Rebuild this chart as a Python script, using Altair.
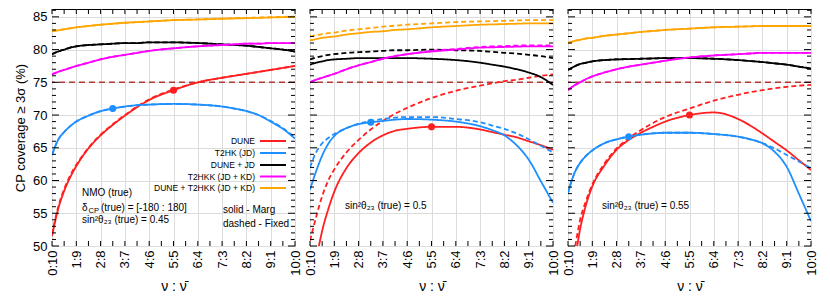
import altair as alt
import pandas as pd

# ---------------- data ----------------
X = [0, 0.25, 0.5, 0.75, 1, 1.5, 2, 2.5, 3, 3.5, 4, 5, 6, 7, 7.5, 8, 8.5, 9, 9.5, 10]
X_TICK_LABELS = ["0:10", "1:9", "2:8", "3:7", "4:6", "5:5", "6:4", "7:3", "8:2", "9:1", "10:0"]

SERIES = ["DUNE", "T2HK (JD)", "DUNE + JD", "T2HKK (JD + KD)", "DUNE + T2HKK (JD + KD)"]
COLORS = ["#ff1f1f", "#1e8fff", "#000000", "#ff00ff", "#ffa500"]

# sin^2 theta23 = 0.45
P45_DUNE_SOLID = [51.5, 55.6, 58.4, 60.5, 62.2, 64.9, 66.9, 68.5, 69.9, 71.2, 72.3, 73.8, 75.0, 75.7, 76.0, 76.3, 76.6, 76.9, 77.2, 77.5]
P45_DUNE_DASHED = [51.8, 55.9, 58.7, 60.8, 62.4, 65.0, 67.0, 68.6, 70.0, 71.3, 72.4, 73.9, 75.0, 75.7, 76.0, 76.3, 76.6, 76.9, 77.2, 77.5]
P45_T2HK_SOLID = [63.9, 66.2, 67.4, 68.3, 69.0, 69.9, 70.6, 71.0, 71.3, 71.5, 71.6, 71.7, 71.6, 71.3, 71.0, 70.6, 70.0, 69.0, 67.9, 66.4]
P45_T2HK_DASHED = [63.9, 66.2, 67.4, 68.3, 69.0, 69.9, 70.6, 71.0, 71.3, 71.5, 71.6, 71.7, 71.6, 71.3, 71.0, 70.6, 70.0, 69.1, 68.0, 66.6]
P45_DJD_SOLID = [79.3, 79.7, 80.0, 80.3, 80.5, 80.7, 80.8, 80.9, 81.0, 81.0, 81.1, 81.1, 81.0, 80.8, 80.7, 80.6, 80.4, 80.2, 80.0, 79.7]
P45_DJD_DASHED = [79.3, 79.7, 80.0, 80.3, 80.5, 80.7, 80.8, 80.9, 81.0, 81.0, 81.1, 81.1, 81.0, 80.8, 80.7, 80.6, 80.4, 80.2, 80.0, 79.7]
P45_T2HKK_SOLID = [76.2, 76.6, 76.9, 77.2, 77.5, 78.0, 78.5, 78.9, 79.2, 79.5, 79.8, 80.2, 80.5, 80.7, 80.8, 80.9, 80.9, 81.0, 81.0, 81.0]
P45_T2HKK_DASHED = [76.2, 76.6, 76.9, 77.2, 77.5, 78.0, 78.5, 78.9, 79.2, 79.5, 79.8, 80.2, 80.5, 80.7, 80.8, 80.9, 80.9, 81.0, 81.0, 81.0]
P45_ALL_SOLID = [82.8, 82.95, 83.1, 83.25, 83.4, 83.6, 83.8, 83.95, 84.1, 84.2, 84.3, 84.5, 84.6, 84.7, 84.75, 84.8, 84.85, 84.9, 84.95, 85.0]
P45_ALL_DASHED = [82.8, 82.95, 83.1, 83.25, 83.4, 83.6, 83.8, 83.95, 84.1, 84.2, 84.3, 84.5, 84.6, 84.75, 84.8, 84.85, 84.9, 84.95, 85.0, 85.05]

# sin^2 theta23 = 0.5
P50_DUNE_SOLID = [40.0, 47.5, 52.3, 55.6, 58.3, 61.9, 64.2, 65.8, 66.9, 67.6, 67.9, 68.2, 68.2, 67.8, 67.4, 67.0, 66.6, 66.0, 65.4, 64.7]
P50_DUNE_DASHED = [50.8, 54.4, 57.6, 60.0, 61.7, 64.3, 66.2, 67.8, 69.1, 70.2, 71.1, 72.6, 73.7, 74.5, 74.85, 75.2, 75.4, 75.7, 76.0, 76.2]
P50_T2HK_SOLID = [58.6, 61.4, 63.8, 65.6, 66.8, 68.0, 68.6, 68.9, 69.1, 69.3, 69.4, 69.3, 69.0, 68.3, 67.7, 66.9, 65.4, 63.2, 59.9, 56.6]
P50_T2HK_DASHED = [62.0, 64.3, 65.7, 66.5, 67.1, 68.0, 68.7, 69.1, 69.4, 69.6, 69.7, 69.7, 69.4, 68.9, 68.4, 67.9, 67.2, 66.3, 65.3, 64.3]
P50_DJD_SOLID = [77.7, 78.0, 78.2, 78.4, 78.5, 78.6, 78.7, 78.7, 78.7, 78.7, 78.7, 78.6, 78.4, 78.0, 77.7, 77.4, 77.0, 76.5, 75.8, 74.6]
P50_DJD_DASHED = [78.5, 78.8, 79.0, 79.2, 79.3, 79.5, 79.6, 79.7, 79.8, 79.9, 79.9, 80.0, 79.9, 79.8, 79.65, 79.5, 79.4, 79.2, 79.0, 78.7]
P50_T2HKK_SOLID = [75.0, 75.4, 75.7, 76.0, 76.3, 77.0, 77.6, 78.1, 78.6, 79.0, 79.3, 79.7, 80.0, 80.3, 80.35, 80.4, 80.45, 80.5, 80.5, 80.5]
P50_T2HKK_DASHED = [75.0, 75.4, 75.7, 76.0, 76.3, 77.0, 77.6, 78.1, 78.6, 79.0, 79.3, 79.8, 80.1, 80.4, 80.5, 80.55, 80.6, 80.65, 80.65, 80.65]
P50_ALL_SOLID = [81.4, 81.6, 81.8, 81.9, 82.0, 82.3, 82.5, 82.7, 82.8, 83.0, 83.1, 83.4, 83.6, 83.8, 83.85, 83.9, 83.95, 84.0, 84.0, 84.0]
P50_ALL_DASHED = [82.0, 82.2, 82.35, 82.5, 82.6, 82.9, 83.1, 83.3, 83.5, 83.65, 83.8, 84.0, 84.2, 84.3, 84.35, 84.4, 84.45, 84.5, 84.5, 84.5]

# sin^2 theta23 = 0.55
P55_DUNE_SOLID = [42.0, 47.0, 52.6, 56.4, 59.1, 62.3, 64.7, 66.2, 67.3, 68.2, 69.0, 70.0, 70.4, 69.4, 68.4, 67.2, 65.9, 64.6, 63.1, 61.6]
P55_DUNE_DASHED = [44.0, 49.0, 54.0, 57.0, 59.4, 62.6, 64.9, 66.5, 67.7, 68.8, 69.7, 71.0, 72.2, 73.1, 73.5, 73.8, 74.1, 74.3, 74.5, 74.6]
P55_T2HK_SOLID = [58.1, 61.0, 62.7, 63.8, 64.6, 65.7, 66.3, 66.7, 67.0, 67.2, 67.3, 67.3, 67.1, 66.7, 66.3, 65.7, 64.4, 62.1, 58.0, 53.8]
P55_T2HK_DASHED = [58.1, 61.0, 62.7, 63.8, 64.6, 65.7, 66.3, 66.7, 67.0, 67.2, 67.3, 67.3, 67.1, 66.7, 66.3, 65.7, 64.9, 63.9, 62.9, 61.9]
P55_DJD_SOLID = [76.9, 77.4, 77.8, 78.0, 78.2, 78.4, 78.5, 78.55, 78.6, 78.65, 78.7, 78.7, 78.6, 78.4, 78.25, 78.1, 77.9, 77.7, 77.4, 77.1]
P55_DJD_DASHED = [76.9, 77.4, 77.8, 78.0, 78.2, 78.4, 78.5, 78.55, 78.6, 78.65, 78.7, 78.7, 78.6, 78.4, 78.25, 78.1, 77.9, 77.7, 77.4, 77.1]
P55_T2HKK_SOLID = [73.8, 74.5, 75.0, 75.5, 75.9, 76.5, 77.0, 77.4, 77.7, 78.0, 78.3, 78.8, 79.1, 79.3, 79.4, 79.5, 79.5, 79.5, 79.5, 79.5]
P55_T2HKK_DASHED = [73.8, 74.5, 75.0, 75.5, 75.9, 76.5, 77.0, 77.4, 77.7, 78.0, 78.3, 78.8, 79.1, 79.3, 79.4, 79.5, 79.5, 79.5, 79.5, 79.5]
P55_ALL_SOLID = [81.0, 81.3, 81.5, 81.7, 81.8, 82.1, 82.3, 82.5, 82.7, 82.85, 83.0, 83.2, 83.4, 83.5, 83.55, 83.6, 83.6, 83.6, 83.6, 83.6]
P55_ALL_DASHED = [81.0, 81.3, 81.5, 81.7, 81.8, 82.1, 82.3, 82.5, 82.7, 82.85, 83.0, 83.2, 83.4, 83.5, 83.55, 83.6, 83.6, 83.6, 83.6, 83.6]

# best-point markers (x position, value) for T2HK (JD) and DUNE
DOT_SERIES = ["T2HK (JD)", "DUNE"]
DOT_X = [2.5, 5.0]
P45_DOT_Y = [71.0, 73.8]
P50_DOT_Y = [68.9, 68.2]
P55_DOT_Y = [66.7, 70.0]

THRESHOLD = [75]

# ---------------- layout / style ----------------
W, H = 243, 237
FONT = "Liberation Sans"
Y_DOMAIN = [50, 86.2]


def long_table(solid, dashed):
    rows = []
    for name, s_vals, d_vals in zip(SERIES, solid, dashed):
        for xv, yv in zip(X, d_vals):
            rows.append({"series": name, "type": "dashed", "x": xv, "y": yv})
        for xv, yv in zip(X, s_vals):
            rows.append({"series": name, "type": "solid", "x": xv, "y": yv})
    return pd.DataFrame(rows)


def xenc(field="x"):
    return alt.X(
        f"{field}:Q",
        scale=alt.Scale(domain=[0, 10], nice=False, zero=False),
        axis=alt.Axis(
            values=list(range(11)),
            labelExpr="datum.value + ':' + (10 - datum.value)",
            labelAngle=270,
            labelFlush=False,
            labelOverlap=False,
            labelPadding=4,
            labelFontSize=13,
            title="ν : ν̄",
            titleFontSize=14,
            titlePadding=4,
            grid=True,
            ticks=False,
            tickSize=0,
            domain=False,
        ),
    )


def yenc(first, field="y"):
    if first:
        ax = alt.Axis(
            values=list(range(50, 86, 5)),
            labelFlush=False,
            labelPadding=5,
            labelFontSize=13,
            title="CP coverage ≥ 3σ (%)",
            titleFontSize=13,
            titlePadding=5,
            grid=True,
            ticks=False,
            tickSize=0,
            domain=False,
        )
    else:
        ax = alt.Axis(
            values=list(range(50, 86, 5)),
            labels=False,
            title=None,
            grid=True,
            ticks=False,
            tickSize=0,
            domain=False,
        )
    return alt.Y(f"{field}:Q", scale=alt.Scale(domain=Y_DOMAIN, nice=False, zero=False), axis=ax)


def text_layer(txt, x, y, size=10, align="left"):
    return alt.Chart(pd.DataFrame({"t": [txt]})).mark_text(
        font=FONT, fontSize=size, align=align, baseline="middle", color="black"
    ).encode(text="t:N", x=alt.value(x), y=alt.value(y))


def panel(solid, dashed, dot_y, first, annotations):
    df = long_table(solid, dashed)
    color = alt.Color("series:N", scale=alt.Scale(domain=SERIES, range=COLORS), legend=None)

    thr = alt.Chart(pd.DataFrame({"y": THRESHOLD})).mark_rule(
        color="#b23a34", strokeWidth=1.5, strokeDash=[6, 4]
    ).encode(y=yenc(first))

    lines = alt.Chart(df).mark_line(strokeWidth=1.8, interpolate="monotone", clip=True).encode(
        x=xenc(),
        y=yenc(first),
        color=color,
        strokeDash=alt.StrokeDash(
            "type:N", scale=alt.Scale(domain=["solid", "dashed"], range=[[1, 0], [5, 3]]), legend=None
        ),
        detail="type:N",
    )

    dots = alt.Chart(pd.DataFrame({"series": DOT_SERIES, "x": DOT_X, "y": dot_y})).mark_circle(
        size=50, opacity=1
    ).encode(x=xenc(), y=yenc(first), color=color)

    yt_major = pd.DataFrame({"y": list(range(50, 86, 5))})
    yt_minor = pd.DataFrame({"y": [v for v in range(51, 87) if v % 5 != 0]})
    xt = pd.DataFrame({"x": [i * 0.5 for i in range(21)]})
    ticks = [
        alt.Chart(yt_major).mark_rule(color="black", strokeWidth=1).encode(y=yenc(first), x=alt.value(0), x2=alt.value(7)),
        alt.Chart(yt_major).mark_rule(color="black", strokeWidth=1).encode(y=yenc(first), x=alt.value(W - 7), x2=alt.value(W)),
        alt.Chart(yt_minor).mark_rule(color="black", strokeWidth=1).encode(y=yenc(first), x=alt.value(0), x2=alt.value(4)),
        alt.Chart(yt_minor).mark_rule(color="black", strokeWidth=1).encode(y=yenc(first), x=alt.value(W - 4), x2=alt.value(W)),
        alt.Chart(xt).mark_rule(color="black", strokeWidth=1).encode(x=xenc(), y=alt.value(H - 5), y2=alt.value(H)),
        alt.Chart(xt).mark_rule(color="black", strokeWidth=1).encode(x=xenc(), y=alt.value(0), y2=alt.value(5)),
    ]

    layers = [thr, lines, dots] + ticks + annotations
    return alt.layer(*layers).properties(width=W, height=H)


# legend drawn inside the first panel (labels right-aligned, line sample to the right)
legend_layers = []
LEG_Y = [132, 144, 156, 167.5, 179]
for name, col, ly in zip(SERIES, COLORS, LEG_Y):
    legend_layers.append(text_layer(name, 203, ly, size=8.5, align="right"))
    legend_layers.append(
        alt.Chart(pd.DataFrame({"s": [name]})).mark_rule(color=col, strokeWidth=2).encode(
            x=alt.value(208), x2=alt.value(234), y=alt.value(ly)
        )
    )

ann1 = [
    text_layer("NMO (true)", 30, 184),
    text_layer("δ", 30, 199),
    text_layer("CP", 36.5, 202, size=7.5),
    text_layer("(true) = [-180 : 180]", 49, 199),
    text_layer("sin²θ₂₃ (true) = 0.45", 30, 211),
    text_layer("solid - Marg", 171, 201),
    text_layer("dashed - Fixed", 171, 215),
] + legend_layers
ann2 = [text_layer("sin²θ₂₃ (true) = 0.5", 35, 197)]
ann3 = [text_layer("sin²θ₂₃ (true) = 0.55", 34, 197)]

p1 = panel(
    [P45_DUNE_SOLID, P45_T2HK_SOLID, P45_DJD_SOLID, P45_T2HKK_SOLID, P45_ALL_SOLID],
    [P45_DUNE_DASHED, P45_T2HK_DASHED, P45_DJD_DASHED, P45_T2HKK_DASHED, P45_ALL_DASHED],
    P45_DOT_Y, True, ann1,
)
p2 = panel(
    [P50_DUNE_SOLID, P50_T2HK_SOLID, P50_DJD_SOLID, P50_T2HKK_SOLID, P50_ALL_SOLID],
    [P50_DUNE_DASHED, P50_T2HK_DASHED, P50_DJD_DASHED, P50_T2HKK_DASHED, P50_ALL_DASHED],
    P50_DOT_Y, False, ann2,
)
p3 = panel(
    [P55_DUNE_SOLID, P55_T2HK_SOLID, P55_DJD_SOLID, P55_T2HKK_SOLID, P55_ALL_SOLID],
    [P55_DUNE_DASHED, P55_T2HK_DASHED, P55_DJD_DASHED, P55_T2HKK_DASHED, P55_ALL_DASHED],
    P55_DOT_Y, False, ann3,
)

chart = (
    alt.hconcat(p1, p2, p3, spacing=15)
    .properties(bounds="flush", padding={"left": 6, "top": 0, "right": 0, "bottom": 0}, background="white")
    .configure_view(stroke="black", strokeWidth=1)
    .configure_axis(
        labelFont=FONT,
        titleFont=FONT,
        titleFontWeight="normal",
        labelColor="black",
        titleColor="black",
        gridColor="#dcdcdc",
        gridWidth=1,
    )
)

chart.save("out.html", embed_options={"renderer": "svg", "actions": False})
